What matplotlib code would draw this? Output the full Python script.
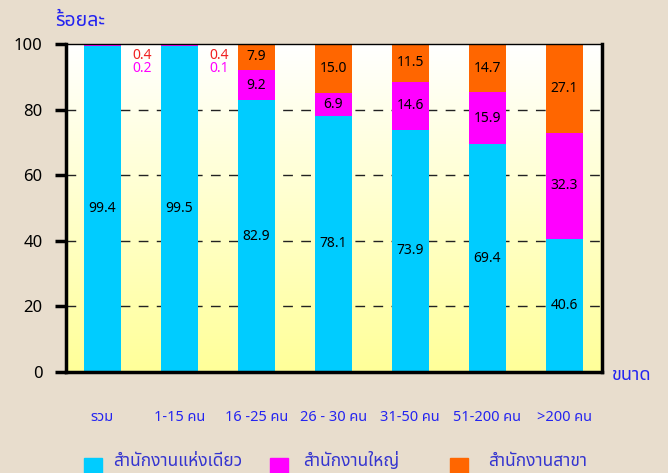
import numpy as np
import matplotlib
matplotlib.use('Agg')
import matplotlib.pyplot as plt
from matplotlib import font_manager
from matplotlib.ft2font import FT2Font
from matplotlib.patches import Rectangle

# --- หาฟอนต์ที่มีอักษรไทย ---
def find_thai_font():
    preferred = ['Tahoma', 'Noto Sans Thai', 'Noto Sans Thai UI', 'Loma', 'Garuda',
                 'Sarabun', 'Norasi', 'Kinnari', 'Leelawadee UI']
    found = {}
    for f in font_manager.fontManager.ttflist:
        try:
            if FT2Font(f.fname).get_char_index(0x0E01):
                found.setdefault(f.name, f.fname)
        except Exception:
            pass
    for p in preferred:
        if p in found:
            return p
    return next(iter(found), None)

thai = find_thai_font()
fams = ([thai] if thai else []) + ['DejaVu Sans']
plt.rcParams['font.family'] = fams

# --- data ---
categories = ['รวม', '1-15 คน', '16 -25 คน', '26 - 30 คน', '31-50 คน', '51-200 คน', '>200 คน']
single_office = [99.4, 99.5, 82.9, 78.1, 73.9, 69.4, 40.6]
head_office = [0.2, 0.1, 9.2, 6.9, 14.6, 15.9, 32.3]
branch_office = [0.4, 0.4, 7.9, 15.0, 11.5, 14.7, 27.1]
series_names = ['สำนักงานแห่งเดียว', 'สำนักงานใหญ่', 'สำนักงานสาขา']
colors = ['#00CCFF', '#FF00FF', '#FF6600']

bg = '#E8DDCD'
blue_txt = '#2424F0'

fig = plt.figure(figsize=(6.68, 4.73), dpi=100, facecolor=bg)
ax = fig.add_axes([66 / 668, 1 - 372 / 473, 536 / 668, 328 / 473])

x = np.arange(len(categories))
ax.set_xlim(-0.47, 6.49)
ax.set_ylim(0, 100)

# gradient background white -> light yellow
grad = np.linspace(0, 1, 256).reshape(-1, 1)
cmap = matplotlib.colors.LinearSegmentedColormap.from_list('g', ['#FFFF99', '#FFFFFF'])
ax.imshow(grad, extent=[-0.47, 6.49, 0, 100], origin='lower', aspect='auto',
          cmap=cmap, zorder=0)

for yv in [20, 40, 60, 80]:
    ax.axhline(yv, color='#222222', lw=1, ls=(0, (7, 6)), zorder=1)

w = 0.48
bottom = np.zeros(len(x))
for vals, c in zip([single_office, head_office, branch_office], colors):
    ax.bar(x, vals, w, bottom=bottom, color=c, zorder=2)
    for i, v in enumerate(vals):
        if v >= 5:
            ax.text(x[i], bottom[i] + v / 2, f'{v:.1f}', ha='center', va='center',
                    fontsize=10, color='black', zorder=3)
    bottom += np.array(vals)

# small values next to the first two bars
for i in [0, 1]:
    ax.text(x[i] + 0.52, 96.6, f'{branch_office[i]:.1f}', ha='center', va='center',
            fontsize=10, color='#F02020', zorder=3)
    ax.text(x[i] + 0.52, 92.4, f'{head_office[i]:.1f}', ha='center', va='center',
            fontsize=10, color='#FF00FF', zorder=3)

ax.set_yticks([0, 20, 40, 60, 80, 100])
ax.tick_params(axis='y', direction='out', length=8, width=2.5, labelsize=12, pad=9)
ax.set_xticks(x)
ax.set_xticklabels(categories, fontsize=10.5, color=blue_txt, fontweight='bold')
ax.tick_params(axis='x', length=0, pad=27)
for s in ax.spines.values():
    s.set_linewidth(2.5)
    s.set_color('black')
    s.set_zorder(5)
ax.spines['top'].set_linewidth(1.0)

fig.text(55 / 668, 1 - 21 / 473, 'ร้อยละ', fontsize=14, fontweight='bold',
         color=blue_txt, ha='left', va='center')
fig.text(611 / 668, 1 - 375 / 473, 'ขนาด', fontsize=13, fontweight='bold',
         color=blue_txt, ha='left', va='center')

# legend (manual placement)
leg_x = [84, 270, 450]
txt_x = [113, 303, 488]
for lx, tx, name, c in zip(leg_x, txt_x, series_names, colors):
    fig.patches.append(Rectangle((lx / 668, 1 - 474 / 473), 18 / 668, 16 / 473,
                                 transform=fig.transFigure, color=c))
    fig.text(tx / 668, 1 - 461 / 473, name, fontsize=12.5, color='#3535D0',
             ha='left', va='center')

fig.savefig('out.png', dpi=100, facecolor=bg)
